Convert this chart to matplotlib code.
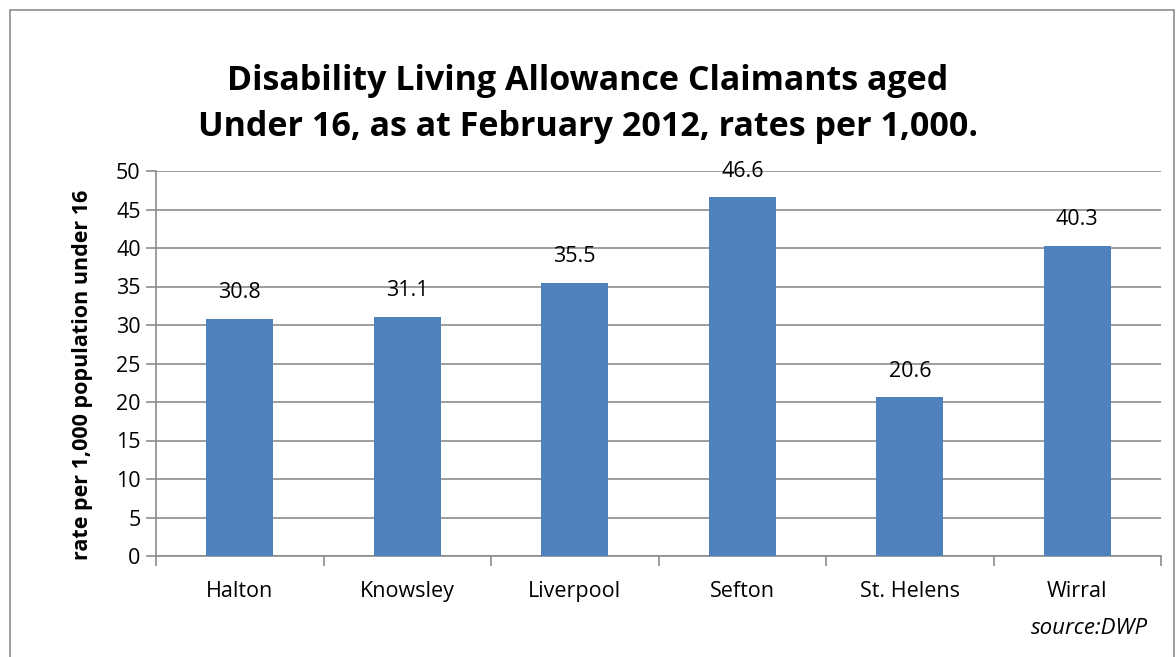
import numpy as np
import matplotlib
matplotlib.use('Agg')
import matplotlib.pyplot as plt
from matplotlib.patches import Rectangle

# Donnees
categories = ['Halton', 'Knowsley', 'Liverpool', 'Sefton', 'St. Helens', 'Wirral']
valeurs = [30.8, 31.1, 35.5, 46.6, 20.6, 40.3]
ticks_y = [0, 5, 10, 15, 20, 25, 30, 35, 40, 45, 50]

plt.rcParams['font.family'] = ['Open Sans', 'DejaVu Sans']

W, H = 1176, 657
fig = plt.figure(figsize=(W/100, H/100), dpi=100)

# cadre gris autour du graphique
fig.patches.append(Rectangle((10/W, -0.05), (1174-10)/W, 1.05 - 10/H,
                             transform=fig.transFigure, fill=False,
                             edgecolor='#8c8c8c', linewidth=1.2))

# zone de trace
x0, x1 = 156, 1161
y0, y1 = 556, 171
ax = fig.add_axes([x0/W, 1 - y0/H, (x1-x0)/W, (y0-y1)/H])

x = np.arange(len(categories))
ax.bar(x, valeurs, width=0.4, color='#4F81BD', zorder=3)
for xi, v in zip(x, valeurs):
    ax.text(xi, v + 2.0, '{:.1f}'.format(v), ha='center', va='bottom', fontsize=15.5)

ax.set_xlim(-0.5, len(categories) - 0.5)
ax.set_ylim(0, 50)
ax.set_yticks(ticks_y)
ax.set_yticklabels([str(t) for t in ticks_y], fontsize=15.5)
ax.yaxis.grid(True, color='#8c8c8c', linewidth=1.2, zorder=0)
ax.set_axisbelow(True)

# ticks x aux limites des categories
ax.set_xticks(np.arange(len(categories) + 1) - 0.5)
ax.set_xticklabels([])
ax.set_xticks(x, minor=True)
ax.set_xticklabels(categories, minor=True, fontsize=15.5)
ax.tick_params(axis='x', which='minor', length=0, pad=18)
ax.tick_params(axis='x', which='major', length=7, color='#8c8c8c', width=1.2)
ax.tick_params(axis='y', length=7, color='#8c8c8c', width=1.2, pad=4)

for s in ['top', 'right']:
    ax.spines[s].set_visible(False)
ax.spines['left'].set_color('#8c8c8c')
ax.spines['bottom'].set_color('#8c8c8c')
ax.spines['left'].set_linewidth(1.2)
ax.spines['bottom'].set_linewidth(1.2)

ax.set_ylabel('rate per 1,000 population under 16', fontsize=15.5, fontweight='bold')
ax.yaxis.set_label_coords(-0.063, 0.47)

fig.text(0.5, 1 - 104/H, 'Disability Living Allowance Claimants aged\nUnder 16, as at February 2012, rates per 1,000.',
         ha='center', va='center', fontsize=24.5, fontweight='bold', linespacing=1.5)
fig.text(1148/W, 1 - 628/H, 'source:DWP', ha='right', va='center', fontsize=16, style='italic')

plt.savefig('out.png', dpi=100)
